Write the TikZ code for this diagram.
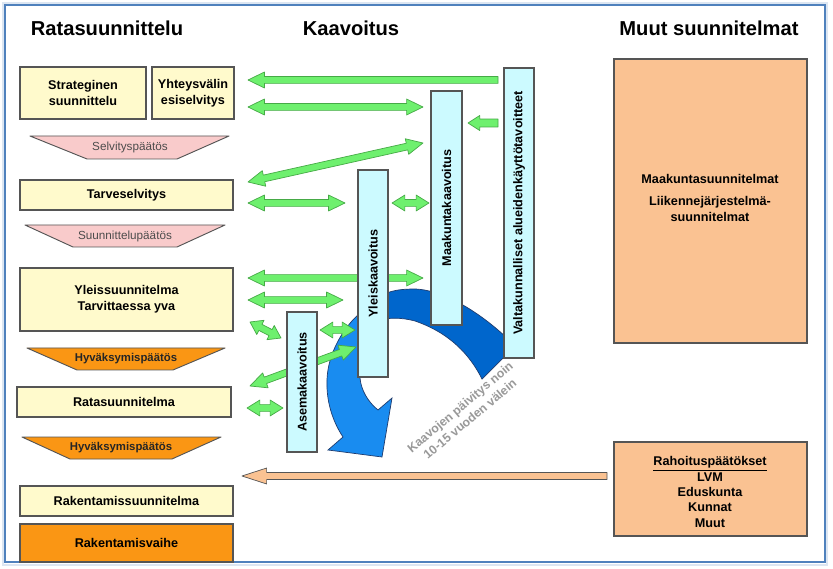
\documentclass[tikz,border=0pt]{standalone}
\usepackage{fontspec}
\setmainfont{Liberation Sans}
\usetikzlibrary{calc}
\usetikzlibrary{fit}
\usetikzlibrary{positioning}

\definecolor{boxline}{RGB}{85,85,85}
\definecolor{ylight}{RGB}{255,250,204}
\definecolor{pinkdec}{RGB}{249,203,203}
\definecolor{orangedec}{RGB}{250,150,20}
\definecolor{peach}{RGB}{250,194,146}
\definecolor{cyanbox}{RGB}{204,250,255}
\definecolor{arrgreen}{RGB}{110,240,110}
\definecolor{arrgreenline}{RGB}{70,170,70}
\definecolor{bluedark}{RGB}{0,102,204}
\definecolor{bluelight}{RGB}{25,140,240}
\definecolor{blueline}{RGB}{31,60,110}
\definecolor{framecol}{RGB}{79,129,189}

\tikzset{
	arrhl/.store in=\arrhl, arrhw/.store in=\arrhw, arrsw/.store in=\arrsw,
	arrhl=14pt, arrhw=7pt, arrsw=3pt
}
% block arrow with two heads, #1 style, #2 and #3 tips
\newcommand{\dblarrow}[3]{%
	\begin{scope}[#1]
		\coordinate (h1) at ($(#2)!\arrhl!(#3)$);
		\coordinate (h2) at ($(#3)!\arrhl!(#2)$);
		\filldraw (#2) -- ($(h1)!\arrhw!90:(#3)$) -- ($(h1)!\arrsw!90:(#3)$)
			-- ($(h2)!\arrsw!-90:(#2)$) -- ($(h2)!\arrhw!-90:(#2)$) -- (#3)
			-- ($(h2)!\arrhw!90:(#2)$) -- ($(h2)!\arrsw!90:(#2)$)
			-- ($(h1)!\arrsw!-90:(#3)$) -- ($(h1)!\arrhw!-90:(#3)$) -- cycle;
	\end{scope}}
% block arrow with one head, #2 tip, #3 tail
\newcommand{\onearrow}[3]{%
	\begin{scope}[#1]
		\coordinate (h1) at ($(#2)!\arrhl!(#3)$);
		\filldraw (#2) -- ($(h1)!\arrhw!90:(#3)$) -- ($(h1)!\arrsw!90:(#3)$)
			-- ($(#3)!\arrsw!-90:(#2)$) -- ($(#3)!\arrsw!90:(#2)$)
			-- ($(h1)!\arrsw!-90:(#3)$) -- ($(h1)!\arrhw!-90:(#3)$) -- cycle;
	\end{scope}}

\begin{document}
\begin{tikzpicture}[x=0.03cm, y=-0.03cm,
		title/.style={font=\bfseries\fontsize{17.2}{20}\selectfont},
		ybox/.style={draw=boxline, fill=ylight, line width=1pt, inner sep=0pt},
		obox/.style={ybox, fill=orangedec},
		pbox/.style={ybox, fill=peach},
		vbox/.style={ybox, fill=cyanbox},
		btext/.style={align=center, font=\bfseries\fontsize{10.8}{13.5}\selectfont},
		vtext/.style={btext, rotate=90},
		decision/.style={draw=boxline, line width=0.8pt, line join=round},
		dectext/.style={font=\fontsize{10}{12}\selectfont, text=black!70},
		garrow/.style={fill=arrgreen, draw=arrgreenline, line width=0.6pt, line join=round,
			arrhl=14pt, arrhw=6.8pt, arrsw=2.9pt},
		parrow/.style={fill=peach, draw=boxline, line width=0.6pt, line join=round,
			arrhl=21pt, arrhw=6.8pt, arrsw=3pt},
		band/.style={draw=blueline, line width=0.6pt},
	]
	\useasboundingbox (0,0) rectangle (833,569);
	\fill[white] (0,0) rectangle (833,569);
	\draw[line width=2.5pt, framecol!20] (3,3) rectangle (827,565);
	\draw[line width=1.2pt, framecol] (5,5) rectangle (825,562);

	% otsikot
	\node[title] (hrata) at (107,28) {Ratasuunnittelu};
	\node[title] (hkaava) at (351,28) {Kaavoitus};
	\node[title] (hmuut) at (709,28) {Muut suunnitelmat};

	% ratasuunnittelu
	\node[ybox, fit={(20,67) (146,119)}] (strat) {};
	\node[btext] (strat-t) at (strat) {Strateginen\\suunnittelu};
	\node[ybox, fit={(152,67) (234,119)}] (yhteys) {};
	\node[btext] (yhteys-t) at (yhteys) {Yhteysvälin\\esiselvitys};
	\node[ybox, fit={(20,180) (233,210)}] (tarve) {};
	\node[btext] (tarve-t) at (tarve) {Tarveselvitys};
	\node[ybox, fit={(20,268) (233,331)}] (yleis) {};
	\node[btext] (yleis-t) at (yleis) {Yleissuunnitelma\\Tarvittaessa yva};
	\node[ybox, fit={(17,387) (231,417)}] (rata) {};
	\node[btext] (rata-t) at (rata) {Ratasuunnitelma};
	\node[ybox, fit={(20,486) (233,516)}] (rakennus) {};
	\node[btext] (rakennus-t) at (rakennus) {Rakentamissuunnitelma};
	\node[obox, fit={(20,524) (233,562)}] (rakvaihe) {};
	\node[btext] (rakvaihe-t) at (rakvaihe) {Rakentamisvaihe};

	\draw[decision, fill=pinkdec] (30,136) -- (229,136) -- (177,159) -- (87,159) -- cycle;
	\node[dectext] (selv) at (130,147) {Selvityspäätös};
	\draw[decision, fill=pinkdec] (25,225) -- (225,225) -- (177,247) -- (73,247) -- cycle;
	\node[dectext] (suunp) at (125,236) {Suunnittelupäätös};
	\draw[decision, fill=orangedec] (27,348) -- (225,348) -- (173,370) -- (77,370) -- cycle;
	\node[dectext, font=\bfseries\fontsize{9.7}{12}\selectfont, text=black!85] (hyv1) at (126,359) {Hyväksymispäätös};
	\draw[decision, fill=orangedec] (22,437) -- (221,437) -- (172,459) -- (70,459) -- cycle;
	\node[dectext, font=\bfseries\fontsize{9.7}{12}\selectfont, text=black!85] (hyv2) at (121,448) {Hyväksymispäätös};

	% kaavojen paivityskierto
	\filldraw[band, fill=bluedark] (375,300) .. controls (385,292) and (395,289) .. (415,289)
		.. controls (445,290) and (485,315) .. (515,346) -- (482,379)
		.. controls (470,355) and (450,333) .. (415,321)
		.. controls (400,317) and (390,318) .. (375,320) -- cycle;
	\filldraw[band, fill=bluelight] (378,302) .. controls (355,310) and (328,345) .. (327,380)
		.. controls (326,405) and (335,425) .. (343,437) -- (328,450) -- (382,457) -- (392,398)
		-- (378,410) .. controls (368,402) and (361,390) .. (360,378)
		.. controls (361,355) and (370,335) .. (385,330) -- cycle;
	\node[rotate=40, align=center, text=black!40, font=\bfseries\fontsize{10.5}{13}\selectfont] (paiv) at (465,413) {Kaavojen päivitys noin\\10-15 vuoden välein};

	% nuolten paat
	\path (248,80) coordinate (g1a) (498,80) coordinate (g1b)
		(248,107) coordinate (g2a) (423,107) coordinate (g2b)
		(468,123) coordinate (g3a) (498,123) coordinate (g3b)
		(248,182) coordinate (g4a) (423,143) coordinate (g4b)
		(248,203) coordinate (g5a) (345,203) coordinate (g5b)
		(392,203) coordinate (g6a) (429,203) coordinate (g6b)
		(248,278) coordinate (g7a) (423,278) coordinate (g7b)
		(248,300) coordinate (g8a) (343,300) coordinate (g8b)
		(250,322) coordinate (g9a) (281,338) coordinate (g9b)
		(320,330) coordinate (g10a) (355,330) coordinate (g10b)
		(250,386) coordinate (g11a) (356,347) coordinate (g11b)
		(247,408) coordinate (g12a) (283,408) coordinate (g12b)
		(242,476) coordinate (p1a) (607,476) coordinate (p1b);

	\onearrow{garrow}{g1a}{g1b}
	\dblarrow{garrow}{g2a}{g2b}
	\onearrow{garrow, arrhl=10pt, arrhw=6.4pt, arrsw=3.4pt}{g3a}{g3b}
	\dblarrow{garrow}{g4a}{g4b}
	\dblarrow{garrow}{g5a}{g5b}
	\dblarrow{garrow, arrhl=11pt}{g6a}{g6b}
	\dblarrow{garrow}{g7a}{g7b}
	\dblarrow{garrow}{g8a}{g8b}
	\dblarrow{garrow, arrhl=10pt}{g9a}{g9b}
	\dblarrow{garrow, arrhl=11pt}{g10a}{g10b}
	\dblarrow{garrow}{g11a}{g11b}
	\dblarrow{garrow, arrhl=11pt}{g12a}{g12b}
	\onearrow{parrow}{p1a}{p1b}

	% kaavoitus
	\node[vbox, fit={(504,68) (534,358)}] (vat) {};
	\node[vtext] (vat-t) at (vat) {Valtakunnalliset alueidenkäyttötavoitteet};
	\node[vbox, fit={(431,91) (462,325)}] (mkk) {};
	\node[vtext] (mkk-t) at (mkk) {Maakuntakaavoitus};
	\node[vbox, fit={(358,170) (388,377)}] (ykk) {};
	\node[vtext] (ykk-t) at (ykk) {Yleiskaavoitus};
	\node[vbox, fit={(287,312) (317,452)}] (akk) {};
	\node[vtext] (akk-t) at (akk) {Asemakaavoitus};

	% muut suunnitelmat
	\node[pbox, fit={(614,59) (807,343)}] (maak) {};
	\node[btext] (maak-t) at (710,198) {Maakuntasuunnitelmat\\[5pt]Liikennejärjestelmä-\\suunnitelmat};
	\node[pbox, fit={(614,442) (807,536)}] (rahoitus) {};
	\node[btext, font=\bfseries\fontsize{10.8}{13.2}\selectfont] (rahoitus-t) at (710,492) {\underline{Rahoituspäätökset}\\LVM\\Eduskunta\\Kunnat\\Muut};
\end{tikzpicture}
\end{document}
